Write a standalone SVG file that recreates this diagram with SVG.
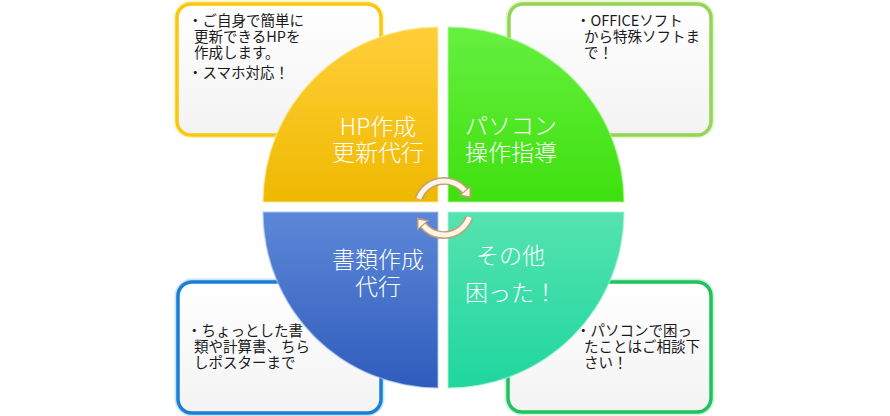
<svg xmlns="http://www.w3.org/2000/svg" width="890" height="416" viewBox="0 0 890 416">
<defs>
<linearGradient id="gBox" x1="0" y1="0" x2="0" y2="1"><stop offset="0" stop-color="#ffffff"/><stop offset="1" stop-color="#f3f3f3"/></linearGradient>
<linearGradient id="gY" x1="0" y1="0" x2="0" y2="1"><stop offset="0" stop-color="#ffcf3a"/><stop offset="1" stop-color="#efb900"/></linearGradient>
<linearGradient id="gG" x1="0" y1="0" x2="0" y2="1"><stop offset="0" stop-color="#66f040"/><stop offset="1" stop-color="#3ee00e"/></linearGradient>
<linearGradient id="gB" x1="0" y1="0" x2="0" y2="1"><stop offset="0" stop-color="#5d88d8"/><stop offset="1" stop-color="#2f5cbc"/></linearGradient>
<linearGradient id="gT" x1="0" y1="0" x2="0" y2="1"><stop offset="0" stop-color="#55e3b0"/><stop offset="1" stop-color="#1fd69e"/></linearGradient>
</defs>
<style>
.box{fill:url(#gBox);stroke-width:3.5}
.glow{fill:none;stroke-width:7;opacity:0.45}
.bt{font-family:"Noto Sans CJK JP","Liberation Sans",sans-serif;font-size:14.5px;fill:#1a1a1a}
.qt{font-family:"Noto Sans CJK JP","Liberation Sans",sans-serif;font-size:23px;fill:#ffffff;font-weight:300}
.edge{stroke-width:1.5;stroke-opacity:0.6}
.arcS{fill:none;stroke:#bf9d75;stroke-width:8}
.arcF{fill:none;stroke:#fff4e6;stroke-width:5}
</style>

<g id="box-hp">
<rect class="glow" x="177" y="4" width="204" height="131" rx="14" stroke="#ffe680"/>
<rect class="box" x="177" y="4" width="204" height="131" rx="14" stroke="#f9c80e"/>
<text class="bt"><tspan x="188" y="26">・ご自身で簡単に</tspan><tspan x="194" y="42">更新できるHPを</tspan><tspan x="194" y="58">作成します。</tspan><tspan x="188" y="78">・スマホ対応！</tspan></text>
</g>
<g id="box-pc">
<rect class="glow" x="509" y="4" width="202" height="131" rx="14" stroke="#c8ec9a"/>
<rect class="box" x="509" y="4" width="202" height="131" rx="14" stroke="#96d455"/>
<text class="bt"><tspan x="576" y="26">・OFFICEソフト</tspan><tspan x="584" y="42">から特殊ソフトま</tspan><tspan x="584" y="58">で！</tspan></text>
</g>
<g id="box-doc">
<rect class="glow" x="178" y="282" width="203" height="131" rx="14" stroke="#8cc6f0"/>
<rect class="box" x="178" y="282" width="203" height="131" rx="14" stroke="#1a7fd4"/>
<text class="bt"><tspan x="187" y="336">・ちょっとした書</tspan><tspan x="194" y="352">類や計算書、ちら</tspan><tspan x="194" y="368">しポスターまで</tspan></text>
</g>
<g id="box-other">
<rect class="glow" x="508" y="282" width="203" height="130" rx="14" stroke="#90e6b0"/>
<rect class="box" x="508" y="282" width="203" height="130" rx="14" stroke="#1fc35e"/>
<text class="bt"><tspan x="576" y="336">・パソコンで困っ</tspan><tspan x="584" y="352">たことはご相談下</tspan><tspan x="584" y="368">さい！</tspan></text>
</g>

<g id="q-hp">
<path d="M438,202 L263,202 A175,175 0 0 1 438,27 Z" fill="url(#gY)" class="edge" stroke="#ffe9a0"/>
<text class="qt" text-anchor="middle"><tspan x="378" y="135">HP作成</tspan><tspan x="378" y="161">更新代行</tspan></text>
</g>
<g id="q-pc">
<path d="M448,202 L448,27 A176,175 0 0 1 624,202 Z" fill="url(#gG)" class="edge" stroke="#b4f7a0"/>
<text class="qt"><tspan x="465" y="134">パソコン</tspan><tspan x="465" y="161">操作指導</tspan></text>
</g>
<g id="q-doc">
<path d="M438,212 L438,388 A175,176 0 0 1 263,212 Z" fill="url(#gB)" class="edge" stroke="#b0c8f4"/>
<text class="qt" text-anchor="middle"><tspan x="378" y="268">書類作成</tspan><tspan x="378" y="295">代行</tspan></text>
</g>
<g id="q-other">
<path d="M448,212 L624,212 A176,176 0 0 1 448,388 Z" fill="url(#gT)" class="edge" stroke="#a8f2d6"/>
<text class="qt"><tspan x="476" y="264">その他</tspan><tspan x="465" y="301">困った！</tspan></text>
</g>

<g id="connectors">
<g id="arrow-top">
<path class="arcS" d="M418.6,198.8 A27,27 0 0 1 464.7,190.6"/>
<polygon points="471,185.5 458.8,195.8 471,198.5" fill="#bf9d75"/>
<path class="arcF" d="M418.6,198.8 A27,27 0 0 1 464.7,190.6"/>
<polygon points="469.5,188 461.5,194.8 469.5,196.3" fill="#fff4e6"/>
</g>
<g id="arrow-bottom" transform="rotate(180 444 208)">
<path class="arcS" d="M418.6,198.8 A27,27 0 0 1 464.7,190.6"/>
<polygon points="471,185.5 458.8,195.8 471,198.5" fill="#bf9d75"/>
<path class="arcF" d="M418.6,198.8 A27,27 0 0 1 464.7,190.6"/>
<polygon points="469.5,188 461.5,194.8 469.5,196.3" fill="#fff4e6"/>
</g>
</g>
</svg>
